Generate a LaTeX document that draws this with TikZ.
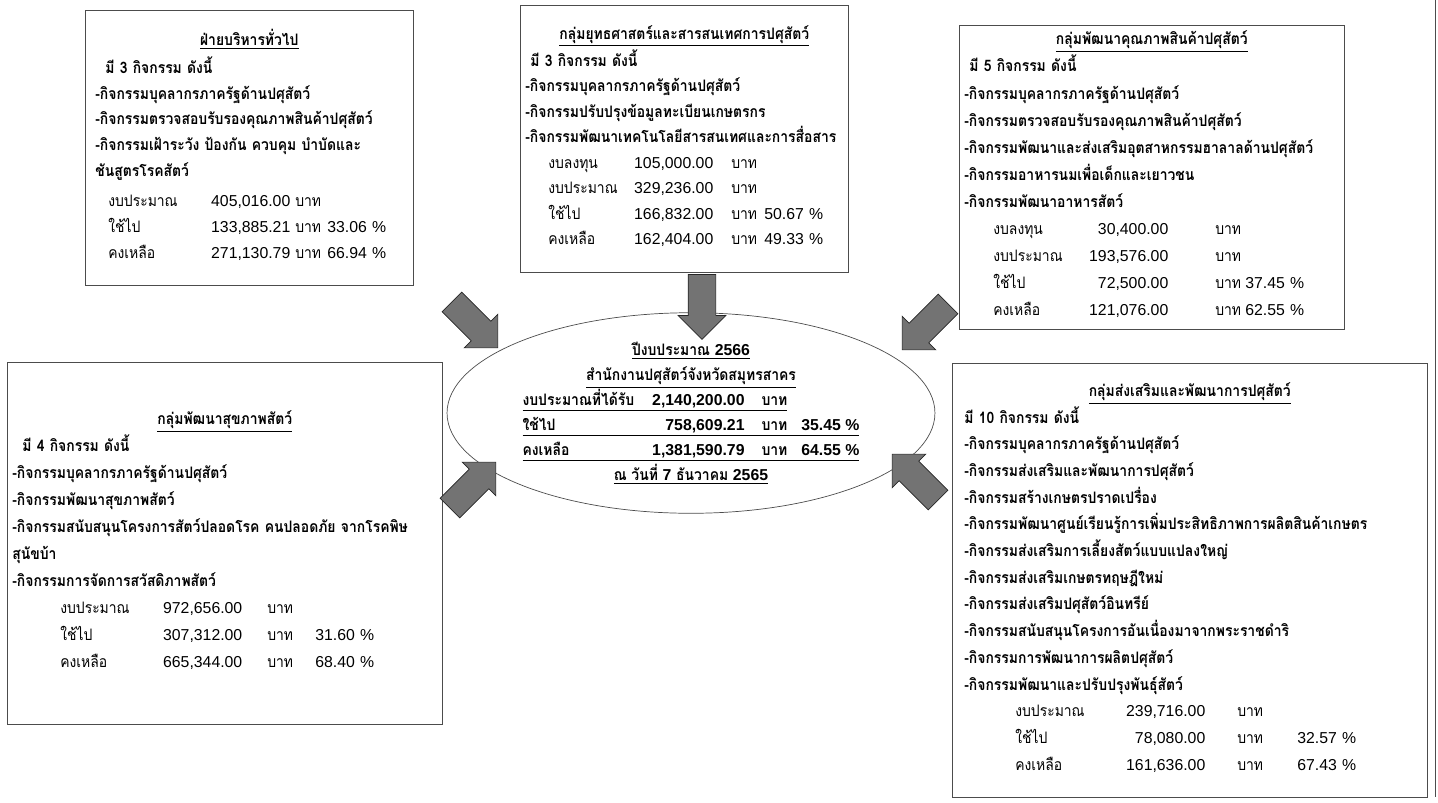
\documentclass[tikz,border=0pt]{standalone}
\usepackage{fontspec}
\usepackage{array}
\usepackage{tikz}
\usetikzlibrary{shapes.geometric, shapes.arrows}
\newfontfamily\thai[Script=Thai, FakeStretch=0.88]{Loma}
\newfontfamily\numfont{Liberation Sans}
\exhyphenpenalty=10000
\setlength{\tabcolsep}{0pt}
\tikzstyle{groupbox} = [rectangle, draw=black!70, anchor=north west, align=left, inner ysep=0pt]
\tikzstyle{summary} = [ellipse, draw=black!70, minimum width=9.76cm, minimum height=3.32cm, inner sep=0pt, align=center]
\tikzstyle{bigarrow} = [single arrow, draw=black!85, fill=black!55, minimum height=1.3cm, single arrow head extend=0.2cm, inner xsep=0pt, inner ysep=0.27cm]
\newcommand{\gtitle}[1]{\makebox[\linewidth]{\underline{#1}}}
\newcommand{\nm}[1]{{\numfont #1}}

\begin{document}
\begin{tikzpicture}[x=0.02cm, y=-0.02cm]
    \useasboundingbox (0,0) rectangle (1438,802);

    % Groups
    \node (admin) [groupbox, minimum width=6.56cm, minimum height=5.5cm, inner xsep=0.2cm, text width=6.16cm,
        font=\thai\bfseries\fontsize{9}{14.6}\selectfont] at (85,10) {%
        \gtitle{ฝ่ายบริหารทั่วไป}\\[1pt]
        \hspace*{0.2cm}มี 3 กิจกรรม ดังนี้\\
        -กิจกรรมบุคลากรภาครัฐด้านปศุสัตว์\\
        -กิจกรรมตรวจสอบรับรองคุณภาพสินค้าปศุสัตว์\\
        -กิจกรรมเฝ้าระวัง ป้องกัน ควบคุม บำบัดและ\\
        ชันสูตรโรคสัตว์\\[3pt]
        \mdseries\begin{tabular}[t]{@{\hspace{0.26cm}}p{1.94cm}>{\numfont\raggedleft\arraybackslash}p{1.7cm}@{\hspace{0.1cm}}p{0.64cm}>{\numfont}l}
        งบประมาณ & 405,016.00 & บาท & \\
        ใช้ไป & 133,885.21 & บาท & 33.06 \% \\
        คงเหลือ & 271,130.79 & บาท & 66.94 \%
        \end{tabular}};

    \node (strategy) [groupbox, minimum width=6.56cm, minimum height=5.34cm, inner xsep=0.1cm, text width=6.36cm,
        font=\thai\bfseries\fontsize{9}{14.5}\selectfont] at (520,5) {%
        \gtitle{กลุ่มยุทธศาสตร์และสารสนเทศการปศุสัตว์}\\[1pt]
        \hspace*{0.1cm}มี 3 กิจกรรม ดังนี้\\
        -กิจกรรมบุคลากรภาครัฐด้านปศุสัตว์\\
        -กิจกรรมปรับปรุงข้อมูลทะเบียนเกษตรกร\\
        -กิจกรรมพัฒนาเทคโนโลยีสารสนเทศและการสื่อสาร\\
        \mdseries\begin{tabular}[t]{@{\hspace{0.46cm}}p{1.65cm}>{\numfont\raggedleft\arraybackslash}p{1.65cm}@{\hspace{0.36cm}}p{0.66cm}>{\numfont}l}
        งบลงทุน & 105,000.00 & บาท & \\
        งบประมาณ & 329,236.00 & บาท & \\
        ใช้ไป & 166,832.00 & บาท & 50.67 \% \\
        คงเหลือ & 162,404.00 & บาท & 49.33 \%
        \end{tabular}};

    \node (quality) [groupbox, minimum width=7.7cm, minimum height=6.08cm, inner xsep=0.1cm, text width=7.5cm,
        font=\thai\bfseries\fontsize{9}{15.4}\selectfont] at (959,25) {%
        \gtitle{กลุ่มพัฒนาคุณภาพสินค้าปศุสัตว์}\\
        \hspace*{0.1cm}มี 5 กิจกรรม ดังนี้\\
        -กิจกรรมบุคลากรภาครัฐด้านปศุสัตว์\\
        -กิจกรรมตรวจสอบรับรองคุณภาพสินค้าปศุสัตว์\\
        -กิจกรรมพัฒนาและส่งเสริมอุตสาหกรรมฮาลาลด้านปศุสัตว์\\
        -กิจกรรมอาหารนมเพื่อเด็กและเยาวชน\\
        -กิจกรรมพัฒนาอาหารสัตว์\\
        \mdseries\begin{tabular}[t]{@{\hspace{0.58cm}}p{1.85cm}>{\numfont\raggedleft\arraybackslash}p{1.65cm}@{\hspace{0.94cm}}p{0.6cm}>{\numfont}l}
        งบลงทุน & 30,400.00 & บาท & \\
        งบประมาณ & 193,576.00 & บาท & \\
        ใช้ไป & 72,500.00 & บาท & 37.45 \% \\
        คงเหลือ & 121,076.00 & บาท & 62.55 \%
        \end{tabular}};

    \node (health) [groupbox, minimum width=8.7cm, minimum height=7.24cm, inner xsep=0.1cm, text width=8.5cm,
        font=\thai\bfseries\fontsize{9}{15.4}\selectfont] at (7,362) {%
        \gtitle{กลุ่มพัฒนาสุขภาพสัตว์}\\
        \hspace*{0.2cm}มี 4 กิจกรรม ดังนี้\\
        -กิจกรรมบุคลากรภาครัฐด้านปศุสัตว์\\
        -กิจกรรมพัฒนาสุขภาพสัตว์\\
        -กิจกรรมสนับสนุนโครงการสัตว์ปลอดโรค คนปลอดภัย จากโรคพิษ\\
        สุนัขบ้า\\
        -กิจกรรมการจัดการสวัสดิภาพสัตว์\\
        \mdseries\begin{tabular}[t]{@{\hspace{0.96cm}}p{1.99cm}>{\numfont\raggedleft\arraybackslash}p{1.65cm}@{\hspace{0.5cm}}p{0.96cm}>{\numfont}l}
        งบประมาณ & 972,656.00 & บาท & \\
        ใช้ไป & 307,312.00 & บาท & 31.60 \% \\
        คงเหลือ & 665,344.00 & บาท & 68.40 \%
        \end{tabular}};

    \node (promotion) [groupbox, minimum width=9.5cm, minimum height=8.68cm, inner xsep=0.24cm, text width=9.02cm,
        font=\thai\bfseries\fontsize{9}{15.2}\selectfont] at (952,363) {%
        \gtitle{กลุ่มส่งเสริมและพัฒนาการปศุสัตว์}\\
        มี 10 กิจกรรม ดังนี้\\
        -กิจกรรมบุคลากรภาครัฐด้านปศุสัตว์\\
        -กิจกรรมส่งเสริมและพัฒนาการปศุสัตว์\\
        -กิจกรรมสร้างเกษตรปราดเปรื่อง\\
        -กิจกรรมพัฒนาศูนย์เรียนรู้การเพิ่มประสิทธิภาพการผลิตสินค้าเกษตร\\
        -กิจกรรมส่งเสริมการเลี้ยงสัตว์แบบแปลงใหญ่\\
        -กิจกรรมส่งเสริมเกษตรทฤษฎีใหม่\\
        -กิจกรรมส่งเสริมปศุสัตว์อินทรีย์\\
        -กิจกรรมสนับสนุนโครงการอันเนื่องมาจากพระราชดำริ\\
        -กิจกรรมการพัฒนาการผลิตปศุสัตว์\\
        -กิจกรรมพัฒนาและปรับปรุงพันธุ์สัตว์\\
        \mdseries\begin{tabular}[t]{@{\hspace{1.02cm}}p{2.15cm}>{\numfont\raggedleft\arraybackslash}p{1.65cm}@{\hspace{0.64cm}}p{1.2cm}>{\numfont}l}
        งบประมาณ & 239,716.00 & บาท & \\
        ใช้ไป & 78,080.00 & บาท & 32.57 \% \\
        คงเหลือ & 161,636.00 & บาท & 67.43 \%
        \end{tabular}};

    % Summary
    \node (total) [summary, font=\thai\bfseries\fontsize{9}{14.2}\selectfont] at (691,413) {%
        \underline{ปีงบประมาณ \nm{2566}}\\
        \underline{สำนักงานปศุสัตว์จังหวัดสมุทรสาคร}\\
        \underline{\makebox[4.44cm][l]{งบประมาณที่ได้รับ\hfill \nm{2,140,200.00}}\hspace{0.34cm}บาท}\phantom{\hspace{0.28cm}\nm{35.45 \%}}\\
        \underline{\makebox[4.44cm][l]{ใช้ไป\hfill \nm{758,609.21}}\hspace{0.34cm}บาท\hspace{0.28cm}\nm{35.45 \%}}\\
        \underline{\makebox[4.44cm][l]{คงเหลือ\hfill \nm{1,381,590.79}}\hspace{0.34cm}บาท\hspace{0.28cm}\nm{64.55 \%}}\\
        \underline{ณ วันที่ \nm{7} ธันวาคม \nm{2565}}};

    % Arrows
    \node (toadmin) [bigarrow, rotate=-45] at (470,320) {};
    \node (tostrategy) [bigarrow, rotate=-90] at (702,300) {};
    \node (toquality) [bigarrow, rotate=-135] at (930,322) {};
    \node (tohealth) [bigarrow, rotate=45] at (468,490) {};
    \node (topromotion) [bigarrow, rotate=135] at (920,482) {};

    \draw [black!70] (1435,0) -- (1435,797);

\end{tikzpicture}
\end{document}
